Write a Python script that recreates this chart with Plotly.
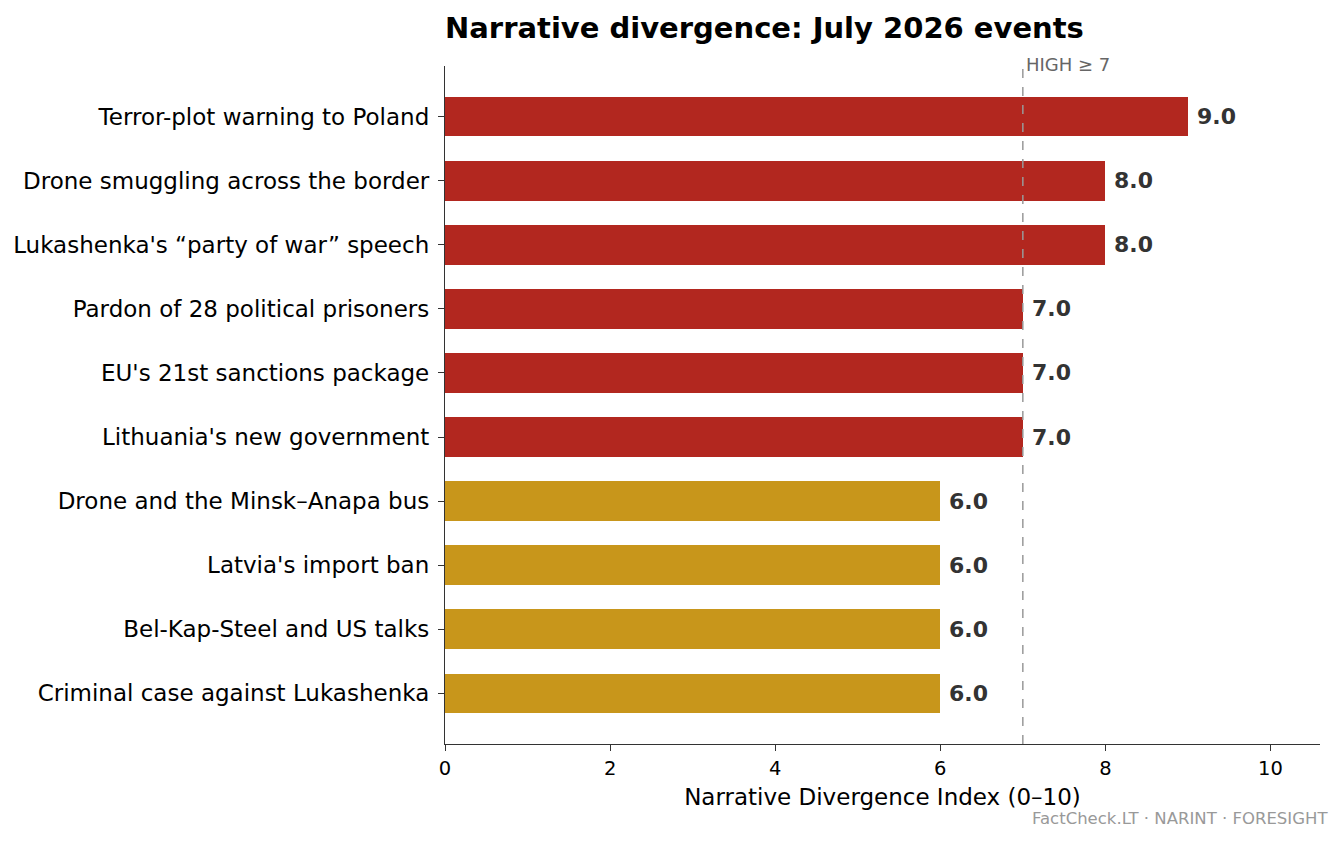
import plotly.graph_objects as go

events = [
    "Terror-plot warning to Poland",
    "Drone smuggling across the border",
    "Lukashenka's \u201cparty of war\u201d speech",
    "Pardon of 28 political prisoners",
    "EU's 21st sanctions package",
    "Lithuania's new government",
    "Drone and the Minsk\u2013Anapa bus",
    "Latvia's import ban",
    "Bel-Kap-Steel and US talks",
    "Criminal case against Lukashenka",
]
scores = [9.0, 8.0, 8.0, 7.0, 7.0, 7.0, 6.0, 6.0, 6.0, 6.0]
high_threshold = 7

RED = "#b2271f"
GOLD = "#c8961b"
FONT = "DejaVu Sans, sans-serif"

colors = [RED if s >= high_threshold else GOLD for s in scores]

fig = go.Figure()
fig.add_trace(go.Bar(
    x=scores,
    y=events,
    orientation="h",
    marker=dict(color=colors, line=dict(width=0)),
    width=0.62,
    hoverinfo="x+y",
))

# value labels
for ev, s in zip(events, scores):
    fig.add_annotation(
        x=s, y=ev, text=f"<b>{s:.1f}</b>",
        xref="x", yref="y", showarrow=False,
        xanchor="left", xshift=7,
        font=dict(family=FONT, size=22, color="#333333"),
    )

# threshold line
fig.add_shape(
    type="line", xref="x", yref="paper",
    x0=high_threshold, x1=high_threshold, y0=0, y1=1,
    line=dict(color="#999999", width=1.5, dash="dash"),
    layer="above",
)
fig.add_annotation(
    x=high_threshold, y=1, xref="x", yref="paper",
    text=f"HIGH \u2265 {high_threshold}", showarrow=False,
    xanchor="left", yanchor="middle", xshift=1, yshift=2,
    font=dict(family=FONT, size=18, color="#666666"),
)

# footer
fig.add_annotation(
    x=1, y=0, xref="paper", yref="paper",
    text="FactCheck.LT \u00b7 NARINT \u00b7 FORESIGHT", showarrow=False,
    xanchor="right", yanchor="middle", xshift=10, yshift=-74,
    font=dict(family=FONT, size=16.5, color="#999999"),
)

fig.update_layout(
    title=dict(
        text="<b>Narrative divergence: July 2026 events</b>",
        x=437 / 1343, xanchor="left", y=1 - 20 / 843, yanchor="middle",
        font=dict(family=FONT, size=29, color="black"),
    ),
    width=1343,
    height=843,
    plot_bgcolor="white",
    paper_bgcolor="white",
    font=dict(family=FONT, size=23, color="black"),
    showlegend=False,
    margin=dict(l=437, r=31, t=58, b=107),
    bargap=0,
)

fig.update_xaxes(
    range=[0, 10.6],
    tickvals=[0, 2, 4, 6, 8, 10],
    ticks="outside", ticklen=6, tickwidth=1.2, tickcolor="#333333",
    tickfont=dict(family=FONT, size=19.5, color="black"),
    showline=True, linecolor="#333333", linewidth=1.3,
    showgrid=False, zeroline=False, automargin=False,
    title=dict(text="Narrative Divergence Index (0\u201310)",
               font=dict(family=FONT, size=23, color="black"), standoff=10),
)
fig.update_yaxes(
    type="category",
    categoryorder="array", categoryarray=events,
    range=[len(events) - 1 + 0.79, -0.79],
    ticks="outside", ticklen=6, tickwidth=1.2, tickcolor="#333333",
    tickfont=dict(family=FONT, size=23, color="black"),
    showline=True, linecolor="#333333", linewidth=1.3,
    showgrid=False, zeroline=False, automargin=False,
    ticklabelstandoff=4,
)

fig.write_html("out.html")
